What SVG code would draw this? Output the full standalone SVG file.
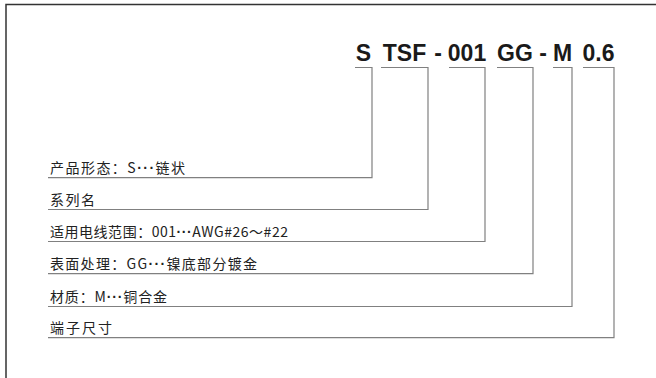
<svg xmlns="http://www.w3.org/2000/svg" width="656" height="378" viewBox="0 0 656 378">
<style>
.frame{fill:none;stroke:#333;stroke-width:1.5}
.ln{fill:none;stroke:#808080;stroke-width:1.2}
.code{font-family:"Liberation Sans",Arial,sans-serif;font-weight:bold;font-size:23px;fill:#1a1a1a;text-anchor:middle}
.lbl{font-family:"Noto Sans CJK SC","Noto Sans",sans-serif;font-size:14px;fill:#222}
.d{font-family:"Liberation Sans",Arial,sans-serif;font-weight:bold}
</style>
<rect width="656" height="378" fill="#fff"/>
<path class="frame" d="M6,378 V4.5 H656"/>
<g id="code">
<text class="code" x="363.5" y="61">S</text>
<text class="code" x="404.5" y="61">TSF</text>
<text class="code" x="438" y="61">-</text>
<text class="code" x="467" y="61">001</text>
<text class="code" x="515" y="61">GG</text>
<text class="code" x="543" y="61">-</text>
<text class="code" x="562.5" y="61">M</text>
<text class="code" x="598.5" y="61">0.6</text>
</g>
<g id="connectors">
<path class="ln" d="M355,67.5 H372 V177.7 H48"/>
<path class="ln" d="M381,67.5 H428 V209.5 H48"/>
<path class="ln" d="M449,67.5 H485 V241.5 H48"/>
<path class="ln" d="M497,67.5 H533 V273.7 H48"/>
<path class="ln" d="M553,67.5 H572 V306.5 H48"/>
<path class="ln" d="M583,67.5 H614 V337.7 H48"/>
</g>
<g id="label1"><text class="lbl" x="50" y="173" textLength="135" lengthAdjust="spacing">产品形态：S<tspan class="d">···</tspan>链状</text></g>
<g id="label2"><text class="lbl" x="50" y="205" textLength="45" lengthAdjust="spacing">系列名</text></g>
<g id="label3"><text class="lbl" x="50" y="237" textLength="238" lengthAdjust="spacing">适用电线范围：001<tspan class="d">···</tspan>AWG#26～#22</text></g>
<g id="label4"><text class="lbl" x="50" y="269" textLength="207" lengthAdjust="spacing">表面处理：GG<tspan class="d">···</tspan>镍底部分镀金</text></g>
<g id="label5"><text class="lbl" x="50" y="302" textLength="117" lengthAdjust="spacing">材质：M<tspan class="d">···</tspan>铜合金</text></g>
<g id="label6"><text class="lbl" x="50" y="333" textLength="62" lengthAdjust="spacing">端子尺寸</text></g>
</svg>
